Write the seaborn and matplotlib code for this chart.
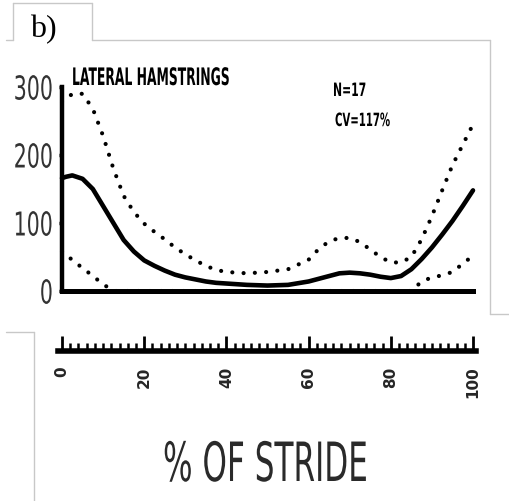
import numpy as np
import pandas as pd
import matplotlib
matplotlib.use("Agg")
import matplotlib.pyplot as plt
from matplotlib.lines import Line2D
from matplotlib.patheffects import AbstractPathEffect
from matplotlib.transforms import Affine2D
import seaborn as sns

# Lateral hamstrings EMG over the stride (mean and +/- 1 SD)
stride = [0, 1, 2.5, 5, 7.5, 10, 12.5, 15, 17.5, 20, 22.5, 25, 27.5, 30, 32.5,
          35, 37.5, 40, 45, 50, 55, 60, 62.5, 65, 67.5, 70, 72.5, 75, 77.5,
          80, 82.5, 85, 87.5, 90, 92.5, 95, 97.5, 100]
mean_emg = [166, 168, 170, 165, 150, 125, 100, 75, 58, 45, 37, 30, 24, 20, 17,
            14, 12, 11, 9, 8, 9, 14, 18, 22, 26, 27, 26, 24, 21,
            19, 22, 32, 47, 64, 83, 103, 125, 148]
upper_sd = [278, 282, 290, 290, 268, 228, 180, 140, 116, 99, 87, 76, 64, 54, 45,
            37, 31, 28, 26, 28, 32, 46, 62, 73, 78, 78, 72, 61, 50,
            42, 42, 50, 76, 110, 148, 185, 215, 245]
lower_sd = [58, 55, 45, 34, 22, 10, 0, 0, 0, 0, 0, 0, 0, 0, 0,
            0, 0, 0, 0, 0, 0, 0, 0, 0, 0, 0, 0, 0, 0,
            0, 0, 0, 14, 20, 23, 28, 40, 52]

y_ticks = [0, 100, 200, 300]
x_ticks = [0, 20, 40, 60, 80, 100]

title = "LATERAL HAMSTRINGS"
n_label = "N=17"
cv_label = "CV=117%"
panel = "b)"
x_label = "% OF STRIDE"


class Tall(AbstractPathEffect):
    """Draw glyphs stretched vertically, giving a tall condensed face.

    The stretch pivots on the baseline, or on the glyph-box centre when
    ``centered`` is set (for tick labels that are centred on their tick).
    """

    def __init__(self, sy=1.6, centered=False):
        super().__init__()
        self.sy = sy
        self.centered = centered

    def draw_path(self, renderer, gc, tpath, affine, rgbFace=None):
        py = 0.0
        if self.centered:
            ext = tpath.get_extents()
            py = 0.5 * (ext.y0 + ext.y1)
        stretch = Affine2D().translate(0, -py).scale(1, self.sy).translate(0, py)
        renderer.draw_path(gc, tpath, stretch + affine, rgbFace)


sns.set_theme(style="white")
plt.rcParams["font.family"] = ["DejaVu Sans"]

W, H = 510, 501
fig = plt.figure(figsize=(W / 100, H / 100), dpi=100)
fig.patch.set_facecolor("white")


def fx(px):
    return px / W


def fy(py):
    return 1 - py / H


# main plotting area: 0..100 % spans x 62..473, 0..300 spans y 291..87
ax = fig.add_axes([fx(62), fy(291), fx(473) - fx(62), fy(87) - fy(291)])
ax.set_facecolor("none")

df = pd.DataFrame({"stride": stride, "mean": mean_emg,
                   "upper": upper_sd, "lower": lower_sd})

dots = dict(color="black", linewidth=3.0, linestyle=(0, (0.01, 2.7)),
            dash_capstyle="round", clip_on=False)
sns.lineplot(data=df, x="stride", y="upper", ax=ax, **dots)
sns.lineplot(data=df, x="stride", y="lower", ax=ax, **dots)
sns.lineplot(data=df, x="stride", y="mean", ax=ax, color="black",
             linewidth=3.3, clip_on=False, solid_capstyle="round")

ax.set_xlim(0, 100)
ax.set_ylim(0, 300)
ax.set_xlabel("")
ax.set_ylabel("")
ax.set_xticks([])
ax.set_yticks(y_ticks)
ax.set_yticklabels([str(v) for v in y_ticks], fontsize=14.8, color="#333333")
ax.tick_params(axis="y", left=True, direction="out", length=2.5, width=2.5,
               pad=4, color="black")
for lab in ax.get_yticklabels():
    lab.set_path_effects([Tall(1.6, centered=True)])
for s in ["top", "right"]:
    ax.spines[s].set_visible(False)
ax.spines["left"].set_linewidth(3.2)
ax.spines["left"].set_color("black")
ax.spines["bottom"].set_linewidth(3.6)
ax.spines["bottom"].set_color("black")

# stride ruler below the plot
unit = (473 - 62) / 100
ax2 = fig.add_axes([fx(62 - unit * 1.0), fy(351), unit * 101.8 / W, 0.02])
ax2.set_facecolor("none")
ax2.set_xlim(-1.0, 100.8)
ax2.set_ylim(0, 1)
for s in ["top", "right", "left"]:
    ax2.spines[s].set_visible(False)
ax2.spines["bottom"].set_linewidth(4)
ax2.spines["bottom"].set_color("black")
ax2.set_yticks([])
ax2.set_xticks(x_ticks)
ax2.set_xticks(np.arange(0, 101, 2), minor=True)
ax2.set_xticklabels([str(v) for v in x_ticks], rotation=90,
                    fontsize=11, fontweight="bold")
ax2.tick_params(axis="x", which="major", bottom=True, direction="in",
                length=11, width=2, pad=11, color="black")
ax2.tick_params(axis="x", which="minor", bottom=True, direction="in",
                length=6, width=1.8, color="black")

# captions
t = fig.text(fx(72), fy(85), title, fontsize=8.9, fontweight="bold",
             va="baseline", ha="left", color="black")
t.set_path_effects([Tall(1.95)])
t = fig.text(fx(333), fy(96), n_label, fontsize=7.8, fontweight="bold",
             va="baseline", ha="left", color="black")
t.set_path_effects([Tall(1.7)])
t = fig.text(fx(335), fy(126), cv_label, fontsize=7.3, fontweight="bold",
             va="baseline", ha="left", color="black")
t.set_path_effects([Tall(1.8)])
t = fig.text(fx(163), fy(481), x_label, fontsize=22.4,
             va="baseline", ha="left", color="#2a2a2a")
t.set_path_effects([Tall(1.74)])
fig.text(fx(30), fy(37), panel, fontsize=23, va="baseline", ha="left",
         family="Liberation Serif", color="black")

# thin grey frame lines
grey = "#c8c8c8"
segments = [
    [(13, 3), (92, 3)], [(13, 3), (13, 40)], [(92, 3), (92, 40)],
    [(92, 40), (490, 40)], [(6, 40), (13, 40)], [(490, 40), (490, 314)],
    [(490, 314), (510, 314)], [(6, 332), (34, 332)], [(34, 332), (34, 501)],
]
for (x0, y0), (x1, y1) in segments:
    fig.add_artist(Line2D([fx(x0), fx(x1)], [fy(y0), fy(y1)],
                          transform=fig.transFigure, color=grey, lw=1.0))

fig.savefig("out.png", dpi=100)
